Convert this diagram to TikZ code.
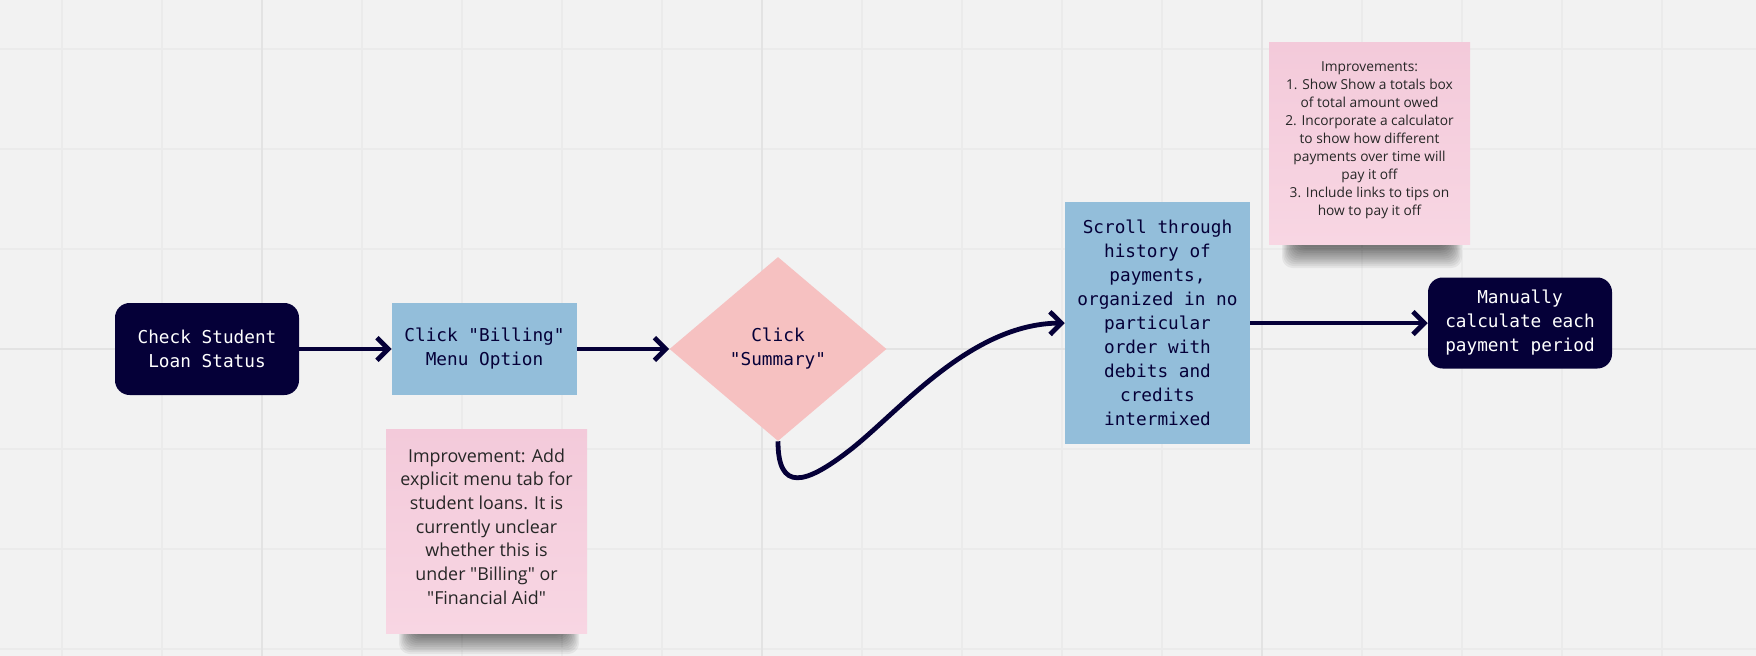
\documentclass[tikz,border=0pt]{standalone}
\usepackage{fontspec}
\setmonofont{DejaVu Sans Mono}
\newfontfamily\notefont{Open Sans}
\usetikzlibrary{arrows.meta,shapes.geometric}
\definecolor{bg}{HTML}{F2F2F2}
\definecolor{gridc}{HTML}{EBEBEB}
\definecolor{gridd}{HTML}{E3E3E3}
\definecolor{navy}{HTML}{050038}
\definecolor{lblue}{HTML}{93BEDA}
\definecolor{dpink}{HTML}{F6C1C1}
\definecolor{spink}{HTML}{F8D6E3}
\definecolor{spinktop}{HTML}{F3CADA}
\definecolor{notetext}{HTML}{262626}
\begin{document}
\begin{tikzpicture}[x=0.75pt,y=-0.75pt,
  monotext/.style={font=\ttfamily\fontsize{13.3}{18}\selectfont, align=center, inner sep=0pt},
  darkbox/.style={monotext, fill=navy, text=white, rounded corners=11pt},
  bluebox/.style={monotext, fill=lblue, text=navy},
  decision/.style={monotext, diamond, fill=dpink, text=navy},
  sticky/.style={top color=spinktop, bottom color=spink, inner sep=0pt},
  smallnote/.style={font=\notefont\fontsize{10.3}{13.5}\selectfont, text=notetext, align=center, inner sep=0pt},
  bignote/.style={font=\notefont\fontsize{13.4}{17.8}\selectfont, text=notetext, align=center, inner sep=0pt},
  flow/.style={draw=navy, line width=3.6pt, -{Straight Barb[length=8.5pt,width=17pt]}}
]
\useasboundingbox (0,0) rectangle (1756,656);
\fill[bg] (0,0) rectangle (1756,656);
% grid
\foreach \x in {62,162,...,1662} \draw[gridc, line width=1.3pt] (\x,0) -- (\x,656);
\foreach \y in {49,149,...,649} \draw[gridc, line width=1.3pt] (0,\y) -- (1756,\y);
\foreach \x in {262,762,1262} \draw[gridd, line width=1.6pt] (\x,0) -- (\x,656);
\draw[gridd, line width=1.6pt] (0,349) -- (1756,349);

% shadows of sticky notes
\foreach \i in {0,...,11} {
  \fill[black, opacity=0.055, rounded corners=8pt] (1282+\i*1.3,224) rectangle (1462-\i*1.3,268-\i*1.9);
  \fill[black, opacity=0.055, rounded corners=8pt] (399+\i*1.3,613) rectangle (579-\i*1.3,654-\i*1.8);
}

% nodes
\node[darkbox, minimum width=138pt, minimum height=69pt] (check) at (207,349) {Check Student\\Loan Status};
\node[bluebox, minimum width=138.75pt, minimum height=69pt] (billing) at (484.5,349) {Click "Billing"\\Menu Option};
\node[decision, minimum width=162.75pt, minimum height=138pt] (summary) at (778,349) {Click\\"Summary"};
\node[bluebox, minimum width=138.75pt, minimum height=181.5pt] (scroll) at (1157.5,323) {Scroll through\\history of\\payments,\\organized in no\\particular\\order with\\debits and\\credits\\intermixed};
\node[darkbox, minimum width=138pt, minimum height=68.25pt] (manual) at (1520,323) {Manually\\calculate each\\payment period};

\node[sticky, minimum width=150.75pt, minimum height=150.75pt] (note1) at (1369.5,143.5) {};
\node[smallnote] (note1txt) at (1369.5,140) {Improvements:\\1. Show Show a totals box\\of total amount owed\\2. Incorporate a calculator\\to show how different\\payments over time will\\pay it off\\3. Include links to tips on\\how to pay it off};
\node[sticky, minimum width=150.75pt, minimum height=153pt] (note2) at (486.5,531) {};
\node[bignote] (note2txt) at (486.5,526.5) {Improvement: Add\\explicit menu tab for\\student loans. It is\\currently unclear\\whether this is\\under "Billing" or\\"Financial Aid"};

% connectors
\draw[flow] (check.east) -- (billing.west);
\draw[flow] (billing.east) -- (summary.west);
\draw[flow] (summary.south) .. controls (778,492) and (805,485) .. (850,450) .. controls (900,411) and (970,324) .. (scroll.west);
\draw[flow] (scroll.east) -- (manual.west);
\end{tikzpicture}
\end{document}
